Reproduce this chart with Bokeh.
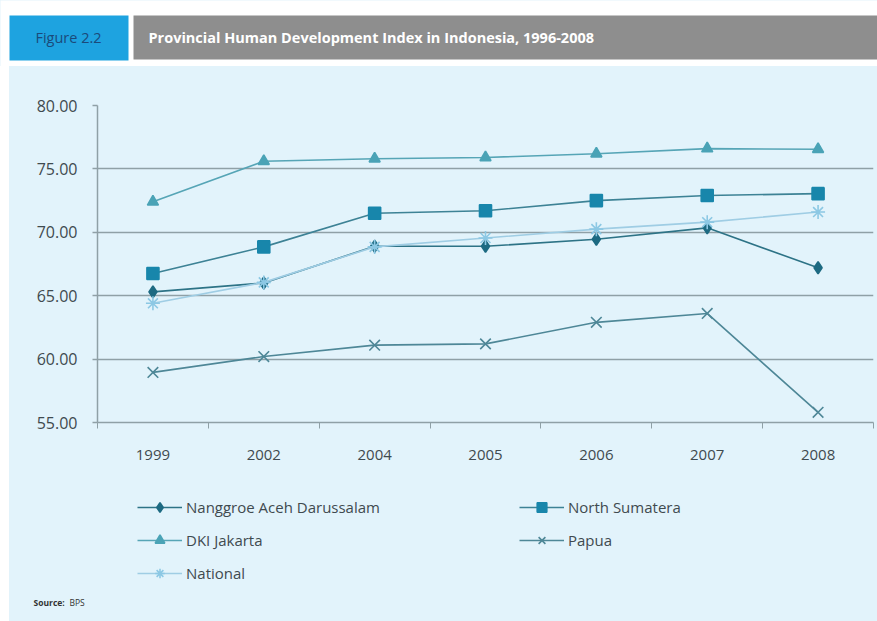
from bokeh.plotting import figure
from bokeh.models import Range1d, FixedTicker, Legend, LegendItem, Spacer, NumeralTickFormatter
from bokeh.layouts import column, row
from bokeh.embed import file_html
from bokeh.resources import INLINE
from bokeh.core.properties import value

# ---- data ----
years = ["1999", "2002", "2004", "2005", "2006", "2007", "2008"]
nad = [65.3, 66.0, 68.9, 68.9, 69.45, 70.35, 67.2]
north_sumatera = [66.75, 68.85, 71.5, 71.7, 72.5, 72.9, 73.05]
dki_jakarta = [72.4, 75.6, 75.8, 75.9, 76.2, 76.6, 76.55]
papua = [58.95, 60.2, 61.1, 61.2, 62.9, 63.6, 55.8]
national = [64.4, 66.05, 68.85, 69.55, 70.25, 70.8, 71.6]
y_ticks = [55, 60, 65, 70, 75, 80]

title_text = "Provincial Human Development Index in Indonesia, 1996-2008"
figure_label = "Figure 2.2"
source_head = "Source:"
source_body = "BPS"

FONT = "Open Sans"
PANEL = "#e2f3fb"
GRID = "#8fa0a6"
TXT = "#3f4a4f"

# ---- header ----
hdr = figure(width=877, height=66, x_range=Range1d(0, 877), y_range=Range1d(66, 0),
             output_backend="svg", toolbar_location=None, min_border=0,
             x_axis_location=None, y_axis_location=None)
hdr.grid.visible = False
hdr.outline_line_color = None
hdr.background_fill_color = "white"
hdr.border_fill_color = "white"
hdr.quad(left=[9], right=[128], top=[15], bottom=[60], fill_color="#1ea3e0", line_color=None)
hdr.quad(left=[133], right=[877], top=[15], bottom=[59], fill_color="#8e8e8e", line_color=None)
hdr.text(x=[68], y=[37], text=[figure_label], text_font=value(FONT), text_font_size="14.5px",
         text_color="#1b4a7a", text_align="center", text_baseline="middle")
hdr.text(x=[148], y=[37], text=[title_text], text_font=value(FONT), text_font_size="14.5px",
         text_font_style="bold", text_color="white", text_align="left", text_baseline="middle")

# ---- main chart ----
n = len(years)
xs = [i + 0.5 for i in range(n)]

p = figure(width=868, height=414, x_range=Range1d(0, n), y_range=Range1d(55, 80),
           output_backend="svg", toolbar_location=None,
           min_border_left=88, min_border_top=39, min_border_right=4, min_border_bottom=58)
p.background_fill_color = PANEL
p.border_fill_color = PANEL
p.outline_line_color = None

p.xgrid.visible = False
p.ygrid.ticker = FixedTicker(ticks=y_ticks)
p.ygrid.grid_line_color = GRID
p.ygrid.grid_line_width = 1.5

xa = p.xaxis[0]
xa.ticker = FixedTicker(ticks=xs, minor_ticks=list(range(n + 1)))
xa.major_label_overrides = {x: y for x, y in zip(xs, years)}
xa.major_tick_line_color = None
xa.major_tick_out = 0
xa.major_tick_in = 0
xa.minor_tick_out = 6
xa.minor_tick_in = 0
xa.minor_tick_line_color = GRID
xa.axis_line_color = GRID
xa.axis_line_width = 1.5
xa.major_label_standoff = 21
xa.major_label_text_font = FONT
xa.major_label_text_font_size = "15px"
xa.major_label_text_color = TXT

ya = p.yaxis[0]
ya.ticker = FixedTicker(ticks=y_ticks)
ya.formatter = NumeralTickFormatter(format="0.00")
ya.major_tick_out = 5
ya.major_tick_in = 0
ya.major_tick_line_color = GRID
ya.major_tick_line_width = 1.5
ya.minor_tick_line_color = None
ya.axis_line_color = GRID
ya.axis_line_width = 1.5
ya.major_label_standoff = 15
ya.major_label_text_font = FONT
ya.major_label_text_font_size = "16px"
ya.major_label_text_color = TXT

series = [
    ("Nanggroe Aceh Darussalam", nad, "#2d7386", "#1d6a82", "diamond", 12),
    ("DKI Jakarta", dki_jakarta, "#56a5b6", "#4aa3b6", "triangle", 11),
    ("National", national, "#9fcde4", "#8cc8e4", "asterisk", 14),
    ("North Sumatera", north_sumatera, "#3d8295", "#1886ab", "square", 12),
    ("Papua", papua, "#4e8797", "#4e8797", "x", 15),
]

for name, vals, lc, mc, marker, size in series:
    p.line(xs, vals, line_color=lc, line_width=1.6)
    p.scatter(xs, vals, marker=marker, size=size, fill_color=mc, line_color=mc, line_width=1.6)

# ---- legend + source panel ----
lf = figure(width=868, height=141, x_range=Range1d(0, 868), y_range=Range1d(141, 0),
            output_backend="svg", toolbar_location=None, min_border=0,
            x_axis_location=None, y_axis_location=None)
lf.grid.visible = False
lf.outline_line_color = None
lf.background_fill_color = PANEL
lf.border_fill_color = PANEL
# series renderers for the legend only: mapped onto a range that keeps them out of view
lf.extra_x_ranges = {"series": Range1d(1000, 1001)}

items = []
for name, vals, lc, mc, marker, size in series:
    lr = lf.line(xs, vals, line_color=lc, line_width=1.6, x_range_name="series")
    sr = lf.scatter(xs, vals, marker=marker, size=size, fill_color=mc, line_color=mc,
                    line_width=1.6, x_range_name="series")
    items.append(LegendItem(label=name, renderers=[lr, sr]))

legend = Legend(items=items, ncols=2, location=(128, 36), orientation="vertical",
                glyph_width=45, glyph_height=24, label_height=20, label_width=324,
                label_standoff=4, spacing=9, padding=0, margin=0,
                background_fill_alpha=0, border_line_color=None,
                label_text_font=FONT, label_text_font_size="15px", label_text_color=TXT)
lf.add_layout(legend, "center")

lf.text(x=[24], y=[122], text=[source_head], text_font=value(FONT), text_font_size="8.5px",
        text_font_style="bold", text_color="#333333", text_baseline="middle")
lf.text(x=[60], y=[122], text=[source_body], text_font=value(FONT), text_font_size="8.5px",
        text_color="#333333", text_baseline="middle")

layout = column(hdr,
                row(Spacer(width=9, height=414, styles={"background-color": "white"}), p, spacing=0),
                row(Spacer(width=9, height=141, styles={"background-color": "white"}), lf, spacing=0),
                spacing=0, styles={"background-color": PANEL})

open("out.html", "w").write(file_html(layout, INLINE))
